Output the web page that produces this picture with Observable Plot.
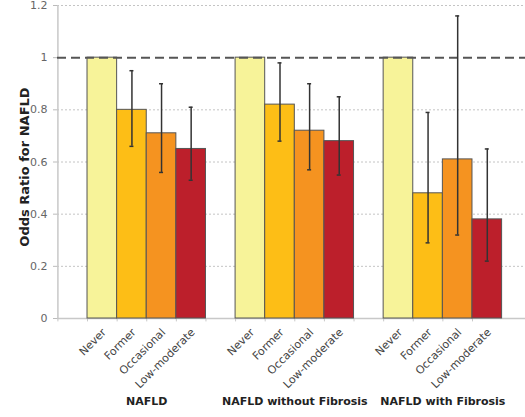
<!DOCTYPE html>
<html>
<head>
<meta charset="utf-8">
<script src="https://cdn.jsdelivr.net/npm/d3@7"></script>
<script src="https://cdn.jsdelivr.net/npm/@observablehq/plot@0.6"></script>
<style>
  html, body { margin: 0; padding: 0; background: #fff; }
  #chart svg { display: block; }
</style>
</head>
<body>
<div id="chart"></div>
<script>
const groups = ["NAFLD", "NAFLD without Fibrosis", "NAFLD with Fibrosis"];
const categories = ["Never", "Former", "Occasional", "Low-moderate"];
const colors = ["#f7f399", "#fdbe16", "#f59320", "#bc1f2b"];

// odds ratios per group, in the order of categories
const oddsNAFLD = [1, 0.80, 0.71, 0.65];
const lowerNAFLD = [null, 0.66, 0.56, 0.53];
const upperNAFLD = [null, 0.95, 0.90, 0.81];

const oddsNoFibrosis = [1, 0.82, 0.72, 0.68];
const lowerNoFibrosis = [null, 0.68, 0.57, 0.55];
const upperNoFibrosis = [null, 0.98, 0.90, 0.85];

const oddsFibrosis = [1, 0.48, 0.61, 0.38];
const lowerFibrosis = [null, 0.29, 0.32, 0.22];
const upperFibrosis = [null, 0.79, 1.16, 0.65];

const yTicks = [0, 0.2, 0.4, 0.6, 0.8, 1, 1.2];

const series = [
  [oddsNAFLD, lowerNAFLD, upperNAFLD],
  [oddsNoFibrosis, lowerNoFibrosis, upperNoFibrosis],
  [oddsFibrosis, lowerFibrosis, upperFibrosis]
];

const rows = [];
groups.forEach((g, gi) => {
  categories.forEach((c, ci) => {
    rows.push({
      key: g + "|" + c,
      group: g,
      category: c,
      or: series[gi][0][ci],
      lo: series[gi][1][ci],
      hi: series[gi][2][ci]
    });
  });
});

const domain = [];
groups.forEach((g, gi) => {
  domain.push("gap" + gi);
  categories.forEach(c => domain.push(g + "|" + c));
});

const x0 = 57.4, x1 = 501.6;
const bw = (x1 - x0) / domain.length;
const ciRows = rows.filter(d => d.lo != null);
const labelRows = groups.map(g => ({ key: g + "|" + categories[1], group: g }));

const font = "DejaVu Sans, Verdana, sans-serif";

const plot = Plot.plot({
  width: 525,
  height: 417,
  marginLeft: 57,
  marginRight: 0,
  marginTop: 5,
  marginBottom: 99,
  style: { fontFamily: font, fontSize: "11px", color: "#555", background: "#fff" },
  x: { type: "band", domain, range: [x0, x1], padding: 0, round: false, axis: null },
  y: { domain: [0, 1.2], axis: null },
  marks: [
    // light dashed gridlines
    Plot.ruleY(yTicks.filter(t => t !== 0 && t !== 1), { stroke: "#c4c4c4", strokeDasharray: "2,2", strokeWidth: 1 }),
    // y axis line
    Plot.ruleX([0], { x: () => domain[0], dx: -bw / 2, y1: 0, y2: 1.2, stroke: "#c8c8c8", strokeWidth: 1.5 }),
    // y ticks and labels
    Plot.axisY({ ticks: yTicks, tickSize: 4, tickPadding: 6, tickFormat: d => String(+d.toFixed(1)), stroke: "#bbb", fill: "#666", fontSize: 11, label: null }),
    // y axis title
    Plot.text(["Odds Ratio for NAFLD"], { frameAnchor: "left", textAnchor: "middle", dx: -33, dy: 5, rotate: -90, fontWeight: "bold", fontSize: 13, fill: "#222" }),
    // x axis baseline and boundary ticks
    Plot.ruleY([0], { stroke: "#c8c8c8", strokeWidth: 1.5 }),
    Plot.ruleX(domain, { x: d => d, dx: -bw / 2, y1: 0, y2: -0.013, stroke: "#c8c8c8" }),
    // bars
    Plot.barY(rows, { x: "key", y: "or", fill: d => colors[categories.indexOf(d.category)], stroke: "#555", strokeWidth: 1, inset: 0 }),
    // reference line at 1
    Plot.ruleY([1], { stroke: "#555", strokeWidth: 2, strokeDasharray: "9,5" }),
    // error bars
    Plot.ruleX(ciRows, { x: "key", y1: "lo", y2: "hi", stroke: "#333", strokeWidth: 1.5 }),
    Plot.tickY(ciRows, { x: "key", y: "lo", stroke: "#333", strokeWidth: 1.5, insetLeft: (bw - 4) / 2, insetRight: (bw - 4) / 2 }),
    Plot.tickY(ciRows, { x: "key", y: "hi", stroke: "#333", strokeWidth: 1.5, insetLeft: (bw - 4) / 2, insetRight: (bw - 4) / 2 }),
    // category labels
    Plot.text(rows, { x: "key", y: () => 0, text: "category", rotate: -45, textAnchor: "end", dx: 2, dy: 12, fontSize: 11, fill: "#444" }),
    // group labels
    Plot.text(labelRows, { x: "key", y: () => 0, text: "group", dx: bw / 2, dy: 83, fontWeight: "bold", fontSize: 11, fill: "#222" })
  ]
});

document.getElementById("chart").appendChild(plot);
</script>
</body>
</html>
